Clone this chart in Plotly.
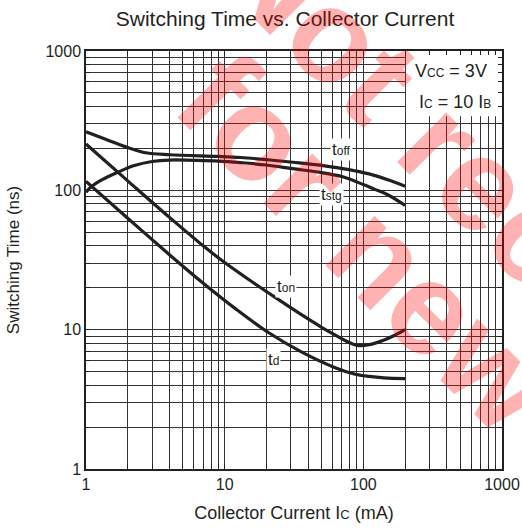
import math
import plotly.graph_objects as go

# ---- data ----
x_toff = [1, 1.4, 2, 2.7, 4, 9, 13, 20, 31, 50, 71, 100, 120, 150, 200]
y_toff = [263, 232, 203, 186, 180, 175, 172, 166, 159, 151, 143, 134, 128, 119, 107]

x_tstg = [1, 1.1, 1.3, 1.7, 2.2, 3, 4, 6, 9, 13, 20, 31, 50, 71, 100, 120, 150, 200]
y_tstg = [97, 107, 119, 135, 150, 161, 165, 164, 162, 158, 152, 143, 134, 125, 110, 102, 93, 78]

x_ton = [1, 2, 4, 7, 10, 15, 23, 36, 50, 62, 75, 90, 110, 140, 170, 200]
y_ton = [215, 117, 64, 40, 30.3, 22.8, 17.1, 12.75, 10.4, 9.2, 8.3, 7.72, 7.8, 8.4, 9.16, 10]

x_td = [1, 2, 4, 6.9, 12, 20.8, 36, 62, 86, 110, 141, 200]
y_td = [116, 63, 34.5, 21.8, 14.1, 9.5, 6.9, 5.36, 4.81, 4.62, 4.51, 4.45]

tick_vals = [m * 10 ** e for e in range(0, 3) for m in range(1, 10)] + [1000]
tick_text = [str(v) if str(v).strip("0") == "1" else "" for v in tick_vals]

INK = "#231f20"
FONT = "Liberation Sans, Arial, Helvetica, sans-serif"

fig = go.Figure()
for xs, ys in [(x_toff, y_toff), (x_tstg, y_tstg), (x_ton, y_ton), (x_td, y_td)]:
    fig.add_trace(go.Scatter(
        x=xs, y=ys, mode="lines",
        line=dict(color=INK, width=3.2, shape="spline", smoothing=1.0),
        hoverinfo="skip", showlegend=False))

axis_common = dict(
    type="log", range=[0, 3], tickvals=tick_vals, ticktext=tick_text,
    showgrid=True, gridcolor="#333333", gridwidth=1, automargin=False,
    showline=True, linecolor=INK, linewidth=1.5, mirror="allticks",
    ticks="inside", ticklen=4, tickcolor=INK, tickwidth=1,
    tickfont=dict(size=16, color=INK, family=FONT), zeroline=False,
)

fig.update_layout(
    width=522, height=529, autosize=False,
    margin=dict(l=86, r=20, t=51, b=60, autoexpand=False),
    paper_bgcolor="white", plot_bgcolor="white",
    font=dict(family=FONT, color=INK),
    title=dict(text="Switching Time vs. Collector Current", font=dict(size=21, color=INK),
               x=0.546, xref="container", xanchor="center",
               y=1 - 19 / 529, yref="container", yanchor="middle", automargin=False),
    xaxis=dict(axis_common, title=dict(
        text="Collector Current I<span style='font-size:13px'>C</span> (mA)",
        font=dict(size=18, color=INK), standoff=14)),
    yaxis=dict(axis_common, title=dict(
        text="Switching Time (ns)", font=dict(size=17, color=INK), standoff=22)),
)

# white panel behind the condition text (hides grid there)
fig.add_shape(type="rect", xref="x", yref="y", x0=203, x1=1000, y0=340, y1=1000,
              fillcolor="white", line=dict(width=0), layer="between")

def lab(main, sub, x, y, size=17, subsize=12):
    fig.add_annotation(
        text=f"{main}<span style='font-size:{subsize}px'>{sub}</span>",
        x=math.log10(x), y=math.log10(y), xref="x", yref="y",
        xanchor="center", yanchor="middle",
        showarrow=False, bgcolor="white", borderpad=1,
        font=dict(size=size, color=INK, family=FONT))

lab("t", "off", 70, 198)
lab("t", "stg", 59, 93)
lab("t", "on", 27.5, 20.5)
lab("t", "d", 22.4, 6.1)

fig.add_annotation(text="V<span style='font-size:12px'>CC</span> = 3V",
                   x=0.877, y=0.952, xref="paper", yref="paper", showarrow=False,
                   xanchor="center", yanchor="middle",
                   font=dict(size=18, color=INK, family=FONT))
fig.add_annotation(text="I<span style='font-size:12px'>C</span> = 10 I<span style='font-size:12px'>B</span>",
                   x=0.887, y=0.879, xref="paper", yref="paper", showarrow=False,
                   xanchor="center", yanchor="middle",
                   font=dict(size=18, color=INK, family=FONT))

# watermark
for txt, px, py in [("Not recommended", 651, 351), ("for new design", 530, 405)]:
    fig.add_annotation(text=f"<b>{txt}</b>", x=(px - 86) / 416, y=(469 - py) / 418,
                       xref="paper", yref="paper", showarrow=False, textangle=45,
                       xanchor="center", yanchor="middle",
                       font=dict(size=132, color="rgba(255,0,0,0.3)", family=FONT))

fig.write_html("out.html",
               config={"displayModeBar": False, "responsive": False},
               post_script="document.body.style.margin='0';document.body.style.overflow='hidden';")
